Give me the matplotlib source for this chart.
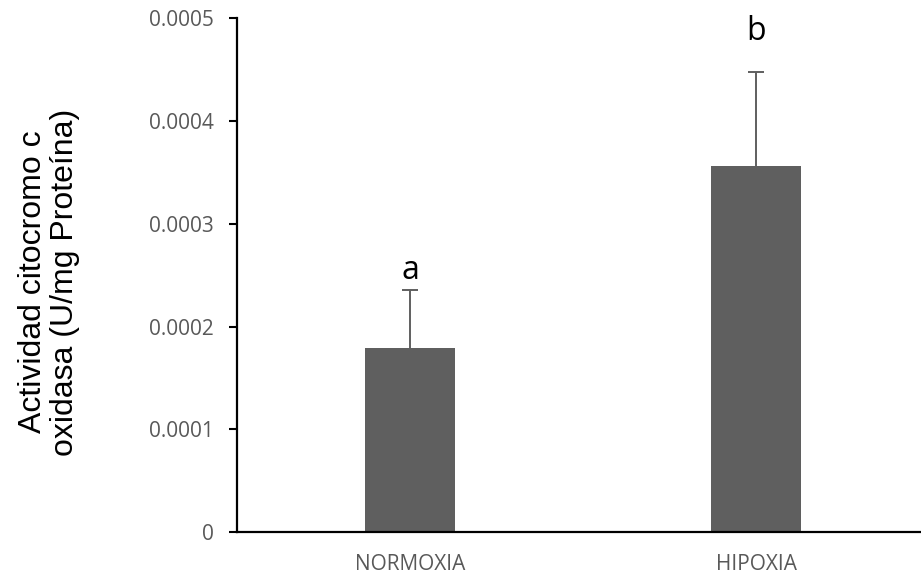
import matplotlib
matplotlib.use("Agg")
import matplotlib.pyplot as plt

categories = ["NORMOXIA", "HIPOXIA"]
means = [0.000179, 0.000356]
errors = [0.000057, 0.000092]
letters = ["a", "b"]
yticks = [0, 0.0001, 0.0002, 0.0003, 0.0004, 0.0005]
yticklabels = ["0", "0.0001", "0.0002", "0.0003", "0.0004", "0.0005"]

fig = plt.figure(figsize=(9.21, 5.75), dpi=100)
ax = fig.add_axes([237/921, 43/575, 692/921, 513.7/575])

x = list(range(len(categories)))
ax.bar(x, means, width=0.263, color="#5f5f5f", zorder=2)
ax.errorbar(x, means, yerr=errors, fmt="none", ecolor="#5f5f5f",
            elinewidth=1.4, capsize=6, capthick=1.4, zorder=3)

label_offsets = [0.000010, 0.000031]
for xi, m, e, l, off in zip(x, means, errors, letters, label_offsets):
    ax.text(xi, m + e + off, l, ha="center", va="baseline",
            fontsize=23, family="Open Sans", color="black")

ax.set_xlim(-0.5, 1.5)
ax.set_ylim(0, 0.0005)
ax.set_yticks(yticks)
ax.set_yticklabels(yticklabels, family="Open Sans", fontsize=15, color="#595959")
ax.set_xticks(x)
ax.set_xticklabels(categories, family="Open Sans", fontsize=15, color="#595959")
ax.tick_params(axis="x", length=0, pad=16)
ax.tick_params(axis="y", length=6, width=1.5, direction="out", pad=11, color="black")

for s in ["top", "right"]:
    ax.spines[s].set_visible(False)
for s in ["left", "bottom"]:
    ax.spines[s].set_linewidth(1.6)
    ax.spines[s].set_color("black")

ax.set_ylabel("Actividad citocromo c\noxidasa (U/mg Proteína)",
              family="Liberation Sans", fontsize=23, color="black",
              linespacing=1.1)
ax.yaxis.set_label_coords(-0.2269, 0.4867)

fig.savefig("out.png", dpi=100)
